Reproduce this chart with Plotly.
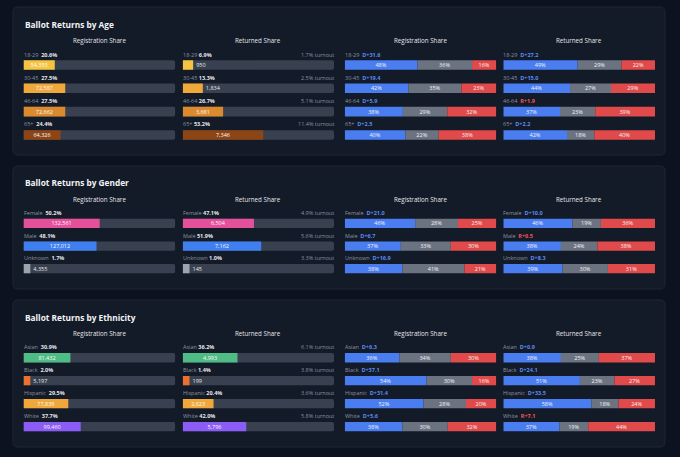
import plotly.graph_objects as go

W, H = 680, 457

# ---- data ----
age_groups = ["18-29", "30-45", "46-64", "65+"]
age_colors = ["#f5c542", "#f0a83a", "#dc8a2e", "#8e4515"]
age_reg_share = [20.6, 27.5, 27.5, 24.4]
age_reg_count = [54353, 72587, 72662, 64326]
age_ret_share = [6.9, 13.3, 26.7, 53.2]
age_ret_count = [950, 1834, 3681, 7346]
age_turnout = [1.7, 2.5, 5.1, 11.4]
age_reg_dem = [48, 42, 38, 40]
age_reg_oth = [36, 35, 29, 22]
age_reg_rep = [16, 23, 32, 38]
age_reg_margin = ["D+31.6", "D+19.4", "D+5.9", "D+2.5"]
age_ret_dem = [49, 44, 37, 42]
age_ret_oth = [29, 27, 23, 18]
age_ret_rep = [22, 29, 39, 40]
age_ret_margin = ["D+27.2", "D+15.0", "R+1.9", "D+2.2"]

gender_groups = ["Female", "Male", "Unknown"]
gender_colors = ["#e4509a", "#3f7ff0", "#9ca3af"]
gender_reg_share = [50.2, 48.1, 1.7]
gender_reg_count = [132561, 127012, 4355]
gender_ret_share = [47.1, 51.9, 1.0]
gender_ret_count = [6504, 7162, 145]
gender_turnout = [4.9, 5.6, 3.3]
gender_reg_dem = [46, 37, 38]
gender_reg_oth = [28, 33, 41]
gender_reg_rep = [25, 30, 21]
gender_reg_margin = ["D+21.0", "D+6.7", "D+16.9"]
gender_ret_dem = [46, 38, 39]
gender_ret_oth = [19, 24, 30]
gender_ret_rep = [36, 38, 31]
gender_ret_margin = ["D+10.0", "R+0.5", "D+8.3"]

eth_groups = ["Asian", "Black", "Hispanic", "White"]
eth_colors = ["#4fbb85", "#ec7030", "#f0a83a", "#8b5cf6"]
eth_reg_share = [30.9, 2.0, 29.5, 37.7]
eth_reg_count = [81432, 5197, 77839, 99460]
eth_ret_share = [36.2, 1.4, 20.4, 42.0]
eth_ret_count = [4993, 199, 2623, 5796]
eth_turnout = [6.1, 3.8, 3.6, 5.8]
eth_reg_dem = [36, 54, 52, 38]
eth_reg_oth = [34, 30, 28, 30]
eth_reg_rep = [30, 16, 20, 32]
eth_reg_margin = ["D+6.3", "D+37.1", "D+31.4", "D+5.6"]
eth_ret_dem = [38, 51, 58, 37]
eth_ret_oth = [25, 23, 18, 19]
eth_ret_rep = [37, 27, 24, 44]
eth_ret_margin = ["D+0.9", "D+24.1", "D+33.5", "R+7.1"]

# ---- style ----
FONT = "Open Sans"
PAGE_BG = "#0c1220"
CARD_BG = "#131a28"
CARD_LINE = "#1e2636"
TRACK = "#394150"
DEM, OTH, REP = "#4a7ef0", "#6b7280", "#e14a4a"
DEM_TXT, REP_TXT = "#5b8cf0", "#ef5959"
LABEL = "#8b93a1"
BRIGHT = "#e5e7eb"
MIN_BAR = 4.5  # smallest drawn share so tiny groups stay visible

sections = [
    dict(title="Ballot Returns by Age", groups=age_groups, colors=age_colors,
         reg_share=age_reg_share, reg_count=age_reg_count,
         ret_share=age_ret_share, ret_count=age_ret_count, turnout=age_turnout,
         reg_party=(age_reg_dem, age_reg_oth, age_reg_rep), reg_margin=age_reg_margin,
         ret_party=(age_ret_dem, age_ret_oth, age_ret_rep), ret_margin=age_ret_margin,
         card=(7, 155), title_y=25, header_y=40, rows=(53.4, 151.4)),
    dict(title="Ballot Returns by Gender", groups=gender_groups, colors=gender_colors,
         reg_share=gender_reg_share, reg_count=gender_reg_count,
         ret_share=gender_ret_share, ret_count=gender_ret_count, turnout=gender_turnout,
         reg_party=(gender_reg_dem, gender_reg_oth, gender_reg_rep), reg_margin=gender_reg_margin,
         ret_party=(gender_ret_dem, gender_ret_oth, gender_ret_rep), ret_margin=gender_ret_margin,
         card=(166, 289), title_y=183, header_y=199, rows=(212.1, 285.2)),
    dict(title="Ballot Returns by Ethnicity", groups=eth_groups, colors=eth_colors,
         reg_share=eth_reg_share, reg_count=eth_reg_count,
         ret_share=eth_ret_share, ret_count=eth_ret_count, turnout=eth_turnout,
         reg_party=(eth_reg_dem, eth_reg_oth, eth_reg_rep), reg_margin=eth_reg_margin,
         ret_party=(eth_ret_dem, eth_ret_oth, eth_ret_rep), ret_margin=eth_ret_margin,
         card=(300, 447), title_y=317, header_y=333, rows=(346.2, 443.1)),
]

cols_px = [(23.5, 175.3), (182.7, 334.0), (344.7, 496.3), (503.3, 655.0)]
headers = ["Registration Share", "Returned Share", "Registration Share", "Returned Share"]
BAR_W = 0.41
NO_LINE = dict(width=0)


def px_x(v):
    return v / W


def px_y(v):
    return 1 - v / H


def card_path(x0, y0, x1, y1, r=5):
    # rounded rectangle in paper coords
    rx, ry = r / W, r / H
    a, b, c, d = px_x(x0), px_y(y1), px_x(x1), px_y(y0)
    return (f"M{a + rx},{b} L{c - rx},{b} Q{c},{b} {c},{b + ry} L{c},{d - ry} "
            f"Q{c},{d} {c - rx},{d} L{a + rx},{d} Q{a},{d} {a},{d - ry} "
            f"L{a},{b + ry} Q{a},{b} {a + rx},{b} Z")


fig = go.Figure()
layout = {}
shapes = []
annotations = []

for s, sec in enumerate(sections):
    groups = sec["groups"]
    shapes.append(dict(type="path", xref="paper", yref="paper", layer="below",
                       path=card_path(13, sec["card"][0], 665, sec["card"][1]),
                       fillcolor=CARD_BG, line=dict(color=CARD_LINE, width=1)))
    annotations.append(dict(text=f"<b>{sec['title']}</b>", xref="paper", yref="paper",
                            x=px_x(23), y=px_y(sec["title_y"]), xanchor="left", yanchor="middle",
                            showarrow=False, font=dict(size=8.3, color="#f3f4f6")))
    top, bottom = sec["rows"]
    for c in range(4):
        n = s * 4 + c + 1
        sfx = "" if n == 1 else str(n)
        xa, ya = f"x{sfx}", f"y{sfx}"
        layout[f"xaxis{sfx}"] = dict(domain=[px_x(cols_px[c][0]), px_x(cols_px[c][1])],
                                     range=[0, 100], visible=False, fixedrange=True, anchor=ya)
        layout[f"yaxis{sfx}"] = dict(domain=[px_y(bottom), px_y(top)], type="category",
                                     categoryorder="array", categoryarray=groups,
                                     autorange="reversed", visible=False, fixedrange=True,
                                     anchor=xa)
        annotations.append(dict(text=headers[c], xref=f"{xa} domain", yref="paper",
                                x=0.5, y=px_y(sec["header_y"]), xanchor="center",
                                yanchor="middle", showarrow=False,
                                font=dict(size=6.2, color=BRIGHT)))

        if c < 2:
            share = sec["reg_share"] if c == 0 else sec["ret_share"]
            count = sec["reg_count"] if c == 0 else sec["ret_count"]
            shown = [max(v, MIN_BAR) for v in share]
            fig.add_trace(go.Bar(x=[100] * len(groups), y=groups, orientation="h",
                                 marker=dict(color=TRACK, cornerradius=2, line=NO_LINE),
                                 width=BAR_W, xaxis=xa, yaxis=ya, hoverinfo="skip",
                                 showlegend=False))
            fig.add_trace(go.Bar(x=shown, y=groups, orientation="h",
                                 marker=dict(color=sec["colors"], cornerradius=2, line=NO_LINE),
                                 width=BAR_W, text=[f"{v:,}" for v in count],
                                 textposition=["inside" if v >= 15 else "outside" for v in share],
                                 insidetextanchor="middle", constraintext="none", textangle=0,
                                 insidetextfont=dict(size=5.5, color="#f9fafb"),
                                 outsidetextfont=dict(size=5.5, color=BRIGHT),
                                 xaxis=xa, yaxis=ya, hovertemplate="%{y}: %{text}<extra></extra>",
                                 showlegend=False))
            for i, g in enumerate(groups):
                gap = "\u00a0\u00a0" if c == 0 else " "
                annotations.append(dict(
                    text=f"<span style='color:{LABEL}'>{g}</span>{gap}<b>{share[i]:.1f}%</b>",
                    xref=xa, yref=ya, x=0, y=g, yshift=10.5, xshift=-2,
                    xanchor="left", yanchor="middle", showarrow=False,
                    font=dict(size=5.5, color=BRIGHT)))
                if c == 1:
                    annotations.append(dict(
                        text=f"{sec['turnout'][i]:.1f}% turnout",
                        xref=xa, yref=ya, x=100, y=g, yshift=10.5, xshift=2,
                        xanchor="right", yanchor="middle", showarrow=False,
                        font=dict(size=5.5, color=LABEL)))
        else:
            dem, oth, rep = sec["reg_party"] if c == 2 else sec["ret_party"]
            margin = sec["reg_margin"] if c == 2 else sec["ret_margin"]
            tot = [d + o + r for d, o, r in zip(dem, oth, rep)]
            dw = [d / t * 100 for d, t in zip(dem, tot)]
            ow = [o / t * 100 for o, t in zip(oth, tot)]
            rw = [r / t * 100 for r, t in zip(rep, tot)]
            bases = [[0] * len(groups), dw, [a + b for a, b in zip(dw, ow)]]
            for vals, widths, base, col in ((dem, dw, bases[0], DEM), (oth, ow, bases[1], OTH),
                                             (rep, rw, bases[2], REP)):
                fig.add_trace(go.Bar(x=widths, base=base, y=groups, orientation="h",
                                     marker=dict(color=col, line=NO_LINE), width=BAR_W,
                                     text=[f"{v}%" for v in vals], textposition="inside",
                                     insidetextanchor="middle", constraintext="none", textangle=0,
                                     insidetextfont=dict(size=5.5, color="#f3f4f6"),
                                     xaxis=xa, yaxis=ya,
                                     hovertemplate="%{y}: %{text}<extra></extra>",
                                     showlegend=False))
            for i, g in enumerate(groups):
                mcol = REP_TXT if margin[i].startswith("R") else DEM_TXT
                annotations.append(dict(
                    text=f"<span style='color:{LABEL}'>{g}</span>\u00a0\u00a0"
                         f"<span style='color:{mcol}'><b>{margin[i]}</b></span>",
                    xref=xa, yref=ya, x=0, y=g, yshift=10.5, xshift=-2,
                    xanchor="left", yanchor="middle", showarrow=False,
                    font=dict(size=5.5, color=BRIGHT)))

fig.update_layout(
    width=W, height=H,
    margin=dict(l=0, r=0, t=0, b=0),
    paper_bgcolor=PAGE_BG, plot_bgcolor="rgba(0,0,0,0)",
    font=dict(family=FONT, color=BRIGHT),
    barmode="overlay", showlegend=False,
    shapes=shapes, annotations=annotations,
    **layout,
)

# the page's default body margin would shift the figure by 8px
fig.write_html("out.html",
               config={"displayModeBar": False},
               post_script="document.body.style.margin='0';"
                           f"document.body.style.background='{PAGE_BG}';")
